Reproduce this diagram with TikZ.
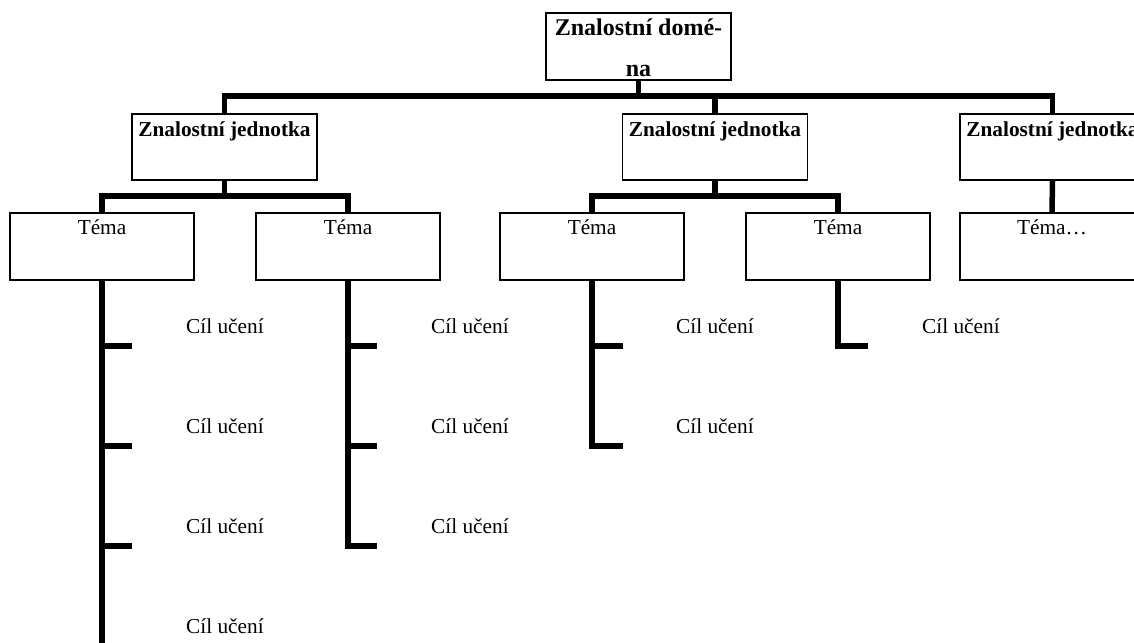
\documentclass[tikz,border=0pt]{standalone}
\usepackage{fontspec}
\setmainfont{Liberation Serif}
\begin{document}
\begin{tikzpicture}[x=1pt,y=-1pt,
  box/.style={draw=black, line width=1.7pt, rectangle, inner sep=0pt, anchor=north,
              minimum width=184pt, minimum height=66pt},
  conn/.style={draw=black, line width=5.5pt, line join=miter},
  headtext/.style={font=\fontsize{24}{28}\selectfont\bfseries, anchor=base, inner sep=0pt},
  unittext/.style={font=\fontsize{21.3}{25}\selectfont\bfseries, anchor=base, inner sep=0pt},
  topictext/.style={font=\fontsize{21.3}{25}\selectfont, anchor=base, inner sep=0pt},
  goal/.style={font=\fontsize{21.3}{25}\selectfont, anchor=base west, inner sep=0pt}]
\useasboundingbox (0,0) rectangle (1134,642);
\clip (0,0) rectangle (1134,642);

% heights of the horizontal bus bars
\coordinate (topbar) at (0,96);
\coordinate (lowbar) at (0,196);

% domain
\node[box, minimum width=185pt, minimum height=67pt] (dom) at (638.5,12) {};
\node[headtext] (domt1) at (638.5,36) {Znalostní domé-};
\node[headtext] (domt2) at (638.5,77) {na};

% knowledge units
\node[box, minimum width=185pt] (u1) at (224.5,113) {};
\node[box, minimum width=185pt] (u2) at (715,113) {};
\node[box, minimum width=185pt] (u3) at (1052.5,113) {};
\node[unittext] (u1t) at (224.5,136) {Znalostní jednotka};
\node[unittext] (u2t) at (715,136) {Znalostní jednotka};
\node[unittext] (u3t) at (1052.5,136) {Znalostní jednotka};

% topics
\node[box, minimum height=67pt] (t1) at (102,212) {};
\node[box, minimum height=67pt] (t2) at (348,212) {};
\node[box, minimum height=67pt] (t3) at (592,212) {};
\node[box, minimum height=67pt] (t4) at (838,212) {};
\node[box, minimum height=67pt] (t5) at (1052,212) {};
\node[topictext] (t1t) at (102,234) {Téma};
\node[topictext] (t2t) at (348,234) {Téma};
\node[topictext] (t3t) at (592,234) {Téma};
\node[topictext] (t4t) at (838,234) {Téma};
\node[topictext] (t5t) at (1052,234) {Téma…};

% domain -> units
\draw[conn] (dom.south) -- (dom.south |- topbar);
\draw[conn] (u1.north) |- (u3.north |- topbar) -- (u3.north);
\draw[conn] (u2.north) -- (u2.north |- topbar);

% units -> topics
\draw[conn] (u1.south) -- (u1.south |- lowbar);
\draw[conn] (t1.north) |- (t2.north |- lowbar) -- (t2.north);
\draw[conn] (u2.south) -- (u2.south |- lowbar);
\draw[conn] (t3.north) |- (t4.north |- lowbar) -- (t4.north);
\draw[conn] (u3.south) -- (t5.north);

% tick ends of the learning-goal ladders
\coordinate (k11) at (132,346);
\coordinate (k12) at (132,446);
\coordinate (k13) at (132,546);
\coordinate (k14) at (102,650);
\coordinate (k21) at (377,346);
\coordinate (k22) at (377,446);
\coordinate (k23) at (377,546);
\coordinate (k31) at (623,346);
\coordinate (k32) at (623,446);
\coordinate (k41) at (868,346);

% learning goals
\node[goal] (g11) at (186,333) {Cíl učení};
\node[goal] (g12) at (186,433) {Cíl učení};
\node[goal] (g13) at (186,533) {Cíl učení};
\node[goal] (g14) at (186,633) {Cíl učení};
\node[goal] (g21) at (431,333) {Cíl učení};
\node[goal] (g22) at (431,433) {Cíl učení};
\node[goal] (g23) at (431,533) {Cíl učení};
\node[goal] (g31) at (676,333) {Cíl učení};
\node[goal] (g32) at (676,433) {Cíl učení};
\node[goal] (g41) at (922,333) {Cíl učení};

% topics -> learning goals
\draw[conn] (t1.south) |- (k11);
\draw[conn] (t1.south) |- (k12);
\draw[conn] (t1.south) |- (k13);
\draw[conn] (t1.south) -- (k14);
\draw[conn] (t2.south) |- (k21);
\draw[conn] (t2.south) |- (k22);
\draw[conn] (t2.south) |- (k23);
\draw[conn] (t3.south) |- (k31);
\draw[conn] (t3.south) |- (k32);
\draw[conn] (t4.south) |- (k41);
\end{tikzpicture}
\end{document}
